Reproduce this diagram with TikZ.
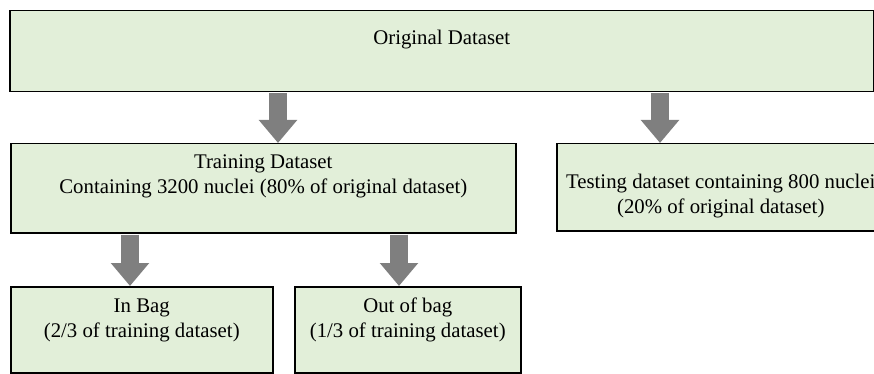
\documentclass[tikz,border=0pt]{standalone}
\usepackage{fontspec}
\setmainfont{Liberation Serif}
\usepackage{tikz}
\usetikzlibrary{arrows.meta}
\definecolor{boxgreen}{HTML}{E2EFD9}
\definecolor{arrowgray}{HTML}{7F7F7F}
\tikzset{
  box/.style={draw, line width=1.5pt, fill=boxgreen, align=center, anchor=north west,
              inner xsep=0pt, inner ysep=0pt, font=\fontsize{20.8}{25}\selectfont},
  down/.style={arrowgray, line width=18pt, shorten <=1pt,
               -{Triangle[length=23pt,width=37pt]}},
}

\begin{document}
\begin{tikzpicture}[x=1pt,y=-1pt]
  \useasboundingbox (0,0) rectangle (874,374);

  % Whole set
  \node[box, minimum width=864pt, text height=34pt, text depth=47pt] (orig) at (9,10) {Original Dataset};

  % Split
  \node[box, minimum width=505pt, text height=50pt, text depth=39pt] (train) at (10,143)
    {Training Dataset\\Containing 3200 nuclei (80\% of original dataset)};
  \node[box, minimum width=328pt, text height=70pt, text depth=17pt] (test) at (556,143)
    {Testing dataset containing 800 nuclei\\(20\% of original dataset)};

  % Bagging
  \node[box, minimum width=262pt, text height=51pt, text depth=35pt] (inbag) at (10,286)
    {In Bag\\(2/3 of training dataset)};
  \node[box, minimum width=226pt, text height=51pt, text depth=35pt] (outbag) at (294,286)
    {Out of bag\\(1/3 of training dataset)};

  % Arrows
  \coordinate (a1) at (278,0);
  \coordinate (a2) at (660,0);
  \coordinate (a3) at (130,0);
  \coordinate (a4) at (399,0);
  \draw[down] (orig.south -| a1) -- (train.north -| a1);
  \draw[down] (orig.south -| a2) -- (test.north -| a2);
  \draw[down] (train.south -| a3) -- (inbag.north -| a3);
  \draw[down] (train.south -| a4) -- (outbag.north -| a4);

\end{tikzpicture}
\end{document}
